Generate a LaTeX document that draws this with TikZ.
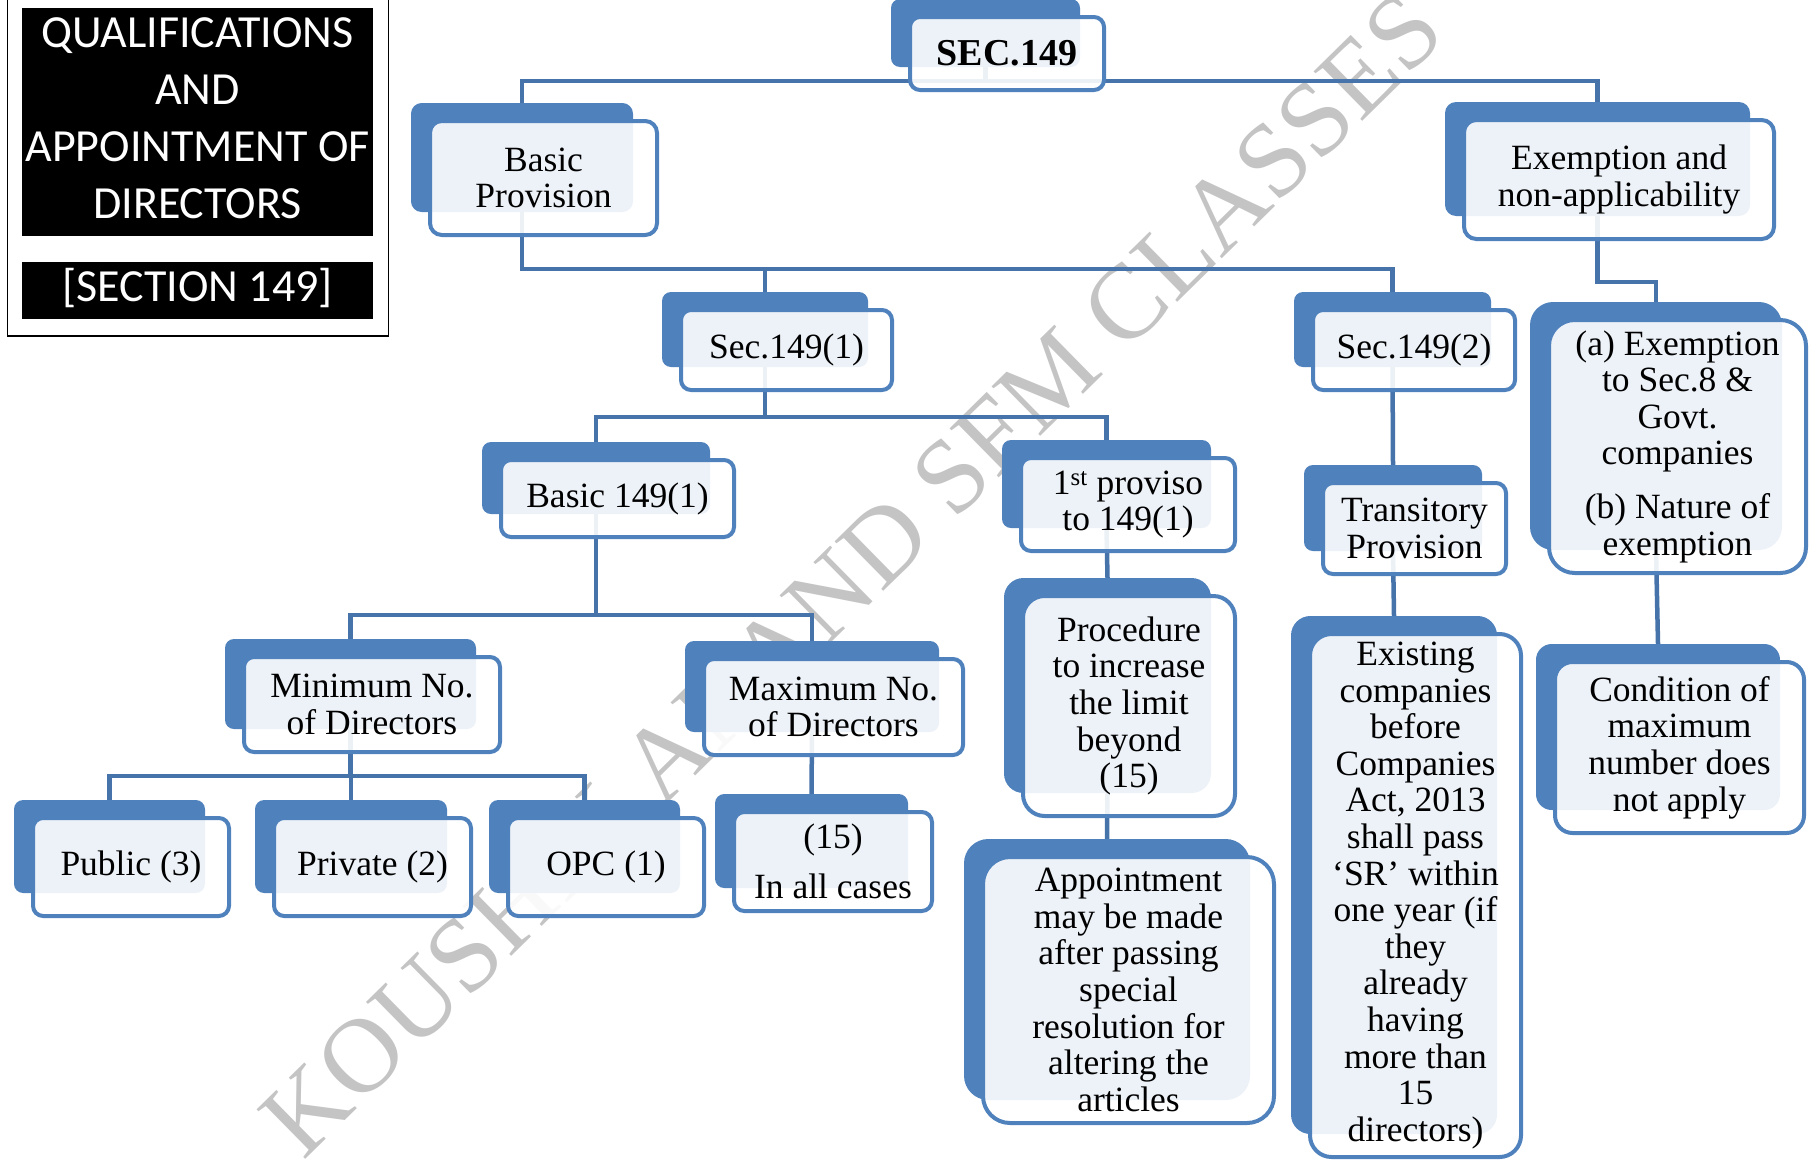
\documentclass[tikz,border=0pt]{standalone}
\usepackage{fontspec}
\setmainfont{Liberation Serif}
\newfontfamily\titlefont{Carlito}
\pgfdeclarelayer{wmlayer}
\pgfdeclarelayer{connlayer}
\pgfsetlayers{wmlayer,connlayer,main}
\definecolor{accent}{RGB}{79,129,189}
\definecolor{connc}{RGB}{70,115,170}
\definecolor{wmgray}{RGB}{196,196,196}
\tikzset{
  backbox/.style={fill=accent, draw=none, inner sep=0pt},
  frontbox/.style={draw=accent, line width=4pt, fill=white, fill opacity=0.9, text opacity=1, inner sep=0pt, align=center, font=\fontsize{35.5}{36.6}\selectfont},
  conn/.style={draw=connc, line width=4.5pt},
  titleblk/.style={fill=black, draw=none, inner sep=0pt},
  titletxt/.style={text=white, align=center, inner sep=0pt, font=\titlefont\fontsize{46}{57}\selectfont},
  frame/.style={draw=black, line width=1.5pt, inner sep=0pt},
  wmark/.style={text=wmgray, inner sep=0pt, font=\fontsize{106}{106}\selectfont}
}
\newcommand{\dbox}[6]{%
  \pgfmathsetmacro{\dbW}{#4-#2}%
  \pgfmathsetmacro{\dbH}{#5-#3}%
  \pgfmathsetmacro{\dbR}{max(10,0.1*min(\dbW,\dbH))}%
  \pgfmathsetmacro{\dbRb}{0.9*\dbR}%
  \pgfmathsetmacro{\dbBW}{\dbW-9}%
  \pgfmathsetmacro{\dbBH}{\dbH-9}%
  \pgfmathsetmacro{\dbFW}{\dbW-4}%
  \pgfmathsetmacro{\dbFH}{\dbH-4}%
  \pgfmathsetmacro{\dbCX}{(#2+#4)/2}%
  \pgfmathsetmacro{\dbCY}{(#3+#5)/2}%
  \node[backbox, rounded corners=\dbRb pt, minimum width=\dbBW pt, minimum height=\dbBH pt] (#1-b) at (\dbCX-21.5,\dbCY-20.5) {};
  \node[frontbox, rounded corners=\dbR pt, minimum width=\dbFW pt, minimum height=\dbFH pt] (#1) at (\dbCX,\dbCY) {#6};
}
\begin{document}
\begin{tikzpicture}[x=1pt,y=-1pt]
\useasboundingbox (0,0) rectangle (1817,1162);

% title block
\node[frame, minimum width=381pt, minimum height=337pt] (frm) at (198,167.5) {};
\node[titleblk, minimum width=351pt, minimum height=228pt] (tblk) at (197.5,122) {};
\node[titletxt] (ttl) at (197.5,118) {QUALIFICATIONS\\AND\\APPOINTMENT OF\\DIRECTORS};
\node[titleblk, minimum width=351pt, minimum height=57pt] (sblk) at (197.5,290.5) {};
\node[titletxt] (stl) at (197.5,288) {[SECTION 149]};

% watermark
\begin{pgfonlayer}{wmlayer}
\node[wmark, rotate=44.5] (wm) at (852,574) {KOUSHIK ANAND SFM CLASSES};
\end{pgfonlayer}

% boxes
\dbox{sec}{908}{15}{1106}{92}{\fontsize{38}{40}\selectfont\bfseries SEC.149}
\dbox{bp}{428}{119}{659}{237}{Basic\\Provision}
\dbox{ex}{1462}{118}{1776}{241}{Exemption and\\non-applicability}
\dbox{sa}{679}{308}{894}{392}{Sec.149(1)}
\dbox{sb}{1311}{308}{1517}{392}{Sec.149(2)}
\dbox{ba}{499}{458}{736}{539}{Basic 149(1)}
\dbox{pv}{1019}{456}{1237}{553}{1\textsuperscript{st} proviso\\to 149(1)}
\dbox{tr}{1321}{481}{1508}{576}{Transitory\\Provision}
\dbox{exa}{1547}{318}{1808}{575}{(a) Exemption\\to Sec.8 \&\\Govt.\\companies\\[17pt](b) Nature of\\exemption}
\dbox{mn}{242}{655}{502}{754}{Minimum No.\\of Directors}
\dbox{mx}{702}{657}{965}{757}{Maximum No.\\of Directors}
\dbox{proc}{1021}{594}{1237}{818}{Procedure\\to increase\\the limit\\beyond\\(15)}
\dbox{exist}{1308}{632}{1523}{1159}{Existing\\companies\\before\\Companies\\Act, 2013\\shall pass\\‘SR’ within\\one year (if\\they\\already\\having\\more than\\15\\directors)}
\dbox{cond}{1553}{660}{1806}{835}{Condition of\\maximum\\number does\\not apply}
\dbox{pub}{31}{816}{231}{918}{Public (3)}
\dbox{priv}{272}{816}{473}{918}{Private (2)}
\dbox{opc}{506}{816}{706}{918}{OPC (1)}
\dbox{fif}{732}{810}{934}{913}{(15)\\[14pt]In all cases}
\dbox{app}{981}{855}{1276}{1125}{Appointment\\may be made\\after passing\\special\\resolution for\\altering the\\articles}

% bus levels
\coordinate (busA) at (0,81);
\coordinate (busB) at (0,269);
\coordinate (busC) at (0,282);
\coordinate (busD) at (0,417);
\coordinate (busE) at (0,615);
\coordinate (busF) at (0,776);

\begin{pgfonlayer}{connlayer}
\draw[conn] (sec-b.south) -- (sec-b.south |- busA);
\draw[conn] (bp-b.north) -- (bp-b.north |- busA) -- (ex-b.north |- busA) -- (ex-b.north);

\draw[conn] (bp-b.south) -- (bp-b.south |- busB) -- (sb-b.north |- busB) -- (sb-b.north);
\draw[conn] (sa-b.north) -- (sa-b.north |- busB);

\draw[conn] (ex-b.south) -- (ex-b.south |- busC) -- (exa-b.north |- busC) -- (exa-b.north);

\draw[conn] (sa-b.south) -- (sa-b.south |- busD);
\draw[conn] (ba-b.north) -- (ba-b.north |- busD) -- (pv-b.north |- busD) -- (pv-b.north);

\draw[conn] (sb-b.south) -- (tr-b.north);

\draw[conn] (ba-b.south) -- (ba-b.south |- busE);
\draw[conn] (mn-b.north) -- (mn-b.north |- busE) -- (mx-b.north |- busE) -- (mx-b.north);

\draw[conn] (mn-b.south) -- (mn-b.south |- busF);
\draw[conn] (pub-b.north) -- (pub-b.north |- busF) -- (opc-b.north |- busF) -- (opc-b.north);
\draw[conn] (priv-b.north) -- (priv-b.north |- busF);

\draw[conn] (mx-b.south) -- (fif-b.north);
\draw[conn] (pv-b.south) -- (proc-b.north);
\draw[conn] (proc-b.south) -- (app-b.north);
\draw[conn] (tr-b.south) -- (exist-b.north);
\draw[conn] (exa-b.south) -- (cond-b.north);
\end{pgfonlayer}
\end{tikzpicture}
\end{document}
